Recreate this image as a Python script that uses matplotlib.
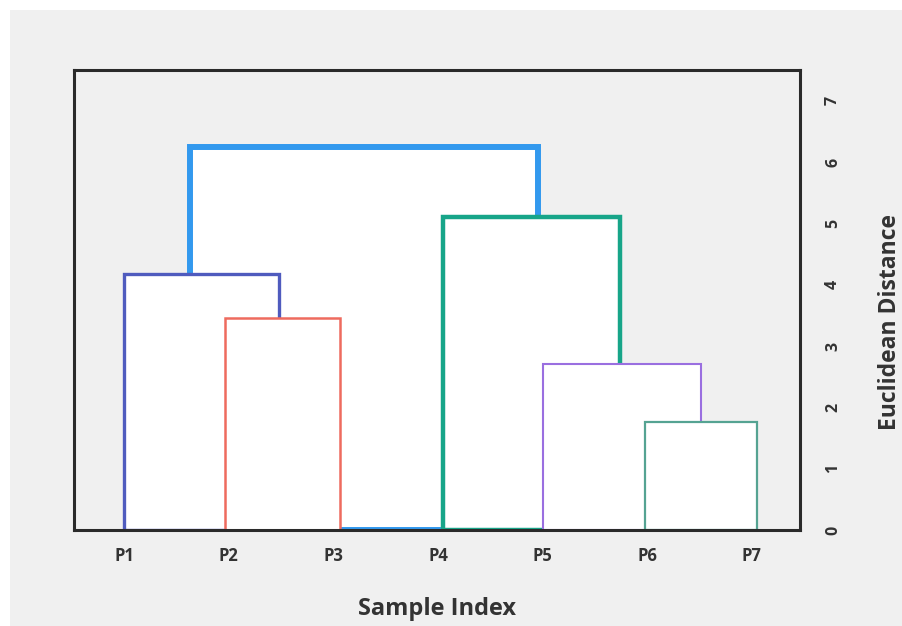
import matplotlib
matplotlib.use('Agg')
import matplotlib.pyplot as plt
from matplotlib.patches import Rectangle

# leaves
leaf_names = ['P1', 'P2', 'P3', 'P4', 'P5', 'P6', 'P7']
leaf_pos = [1, 2, 3, 4, 5, 6, 7]

# links (drawn back to front), legs in x units, height in distance units
link_left = [1.63, 4.05, 1.0, 1.96, 5.0, 5.98]
link_right = [4.96, 5.74, 2.48, 3.06, 6.51, 7.05]
link_height = [6.25, 5.10, 4.18, 3.45, 2.70, 1.76]
link_color = ['#3399ee', '#17a589', '#4f5bbe', '#ee6b5e', '#9a6fe0', '#55a392']
link_lw = [4.3, 3.2, 2.4, 1.8, 1.5, 1.6]

y_ticks = [0, 1, 2, 3, 4, 5, 6, 7]

plt.rcParams['font.family'] = ['Open Sans', 'DejaVu Sans']

fig = plt.figure(figsize=(9.03, 6.26), dpi=100)
fig.patch.set_facecolor('white')
# grey panel behind everything
fig.patches.append(Rectangle((10 / 903, 0), 1, 1 - 10 / 626, transform=fig.transFigure,
                             facecolor='#f0f0f0', edgecolor='none', zorder=-10))

ax = fig.add_axes([74 / 903, 96 / 626, 726 / 903, 460 / 626])
ax.set_facecolor('#f0f0f0')

ax.bar(link_left, link_height, width=[r - l for l, r in zip(link_left, link_right)],
       align='edge', bottom=0, facecolor='white', edgecolor=link_color,
       linewidth=link_lw)

ax.set_xlim(0.52, 7.46)
ax.set_ylim(0, 7.5)

for s in ax.spines.values():
    s.set_linewidth(2.2)
    s.set_color('#2a2a2a')
    s.set_zorder(5)

ax.set_xticks(leaf_pos)
ax.set_xticklabels(leaf_names, fontsize=12, fontweight='bold', color='#333333')
ax.tick_params(axis='x', length=0, pad=12)

ax.yaxis.tick_right()
ax.yaxis.set_label_position('right')
ax.set_yticks(y_ticks)
ax.set_yticklabels([str(t) for t in y_ticks], fontsize=11.5, fontweight='bold',
                   color='#333333', rotation=90, va='center')
ax.tick_params(axis='y', length=0, pad=18)

ax.set_xlabel('Sample Index', fontsize=17, fontweight='bold', color='#333333', labelpad=23)
ax.set_ylabel('Euclidean Distance', fontsize=16.5, fontweight='bold', color='#333333',
              rotation=90)
ax.yaxis.set_label_coords(1.107, 0.452)

fig.savefig('out.png', dpi=100)
